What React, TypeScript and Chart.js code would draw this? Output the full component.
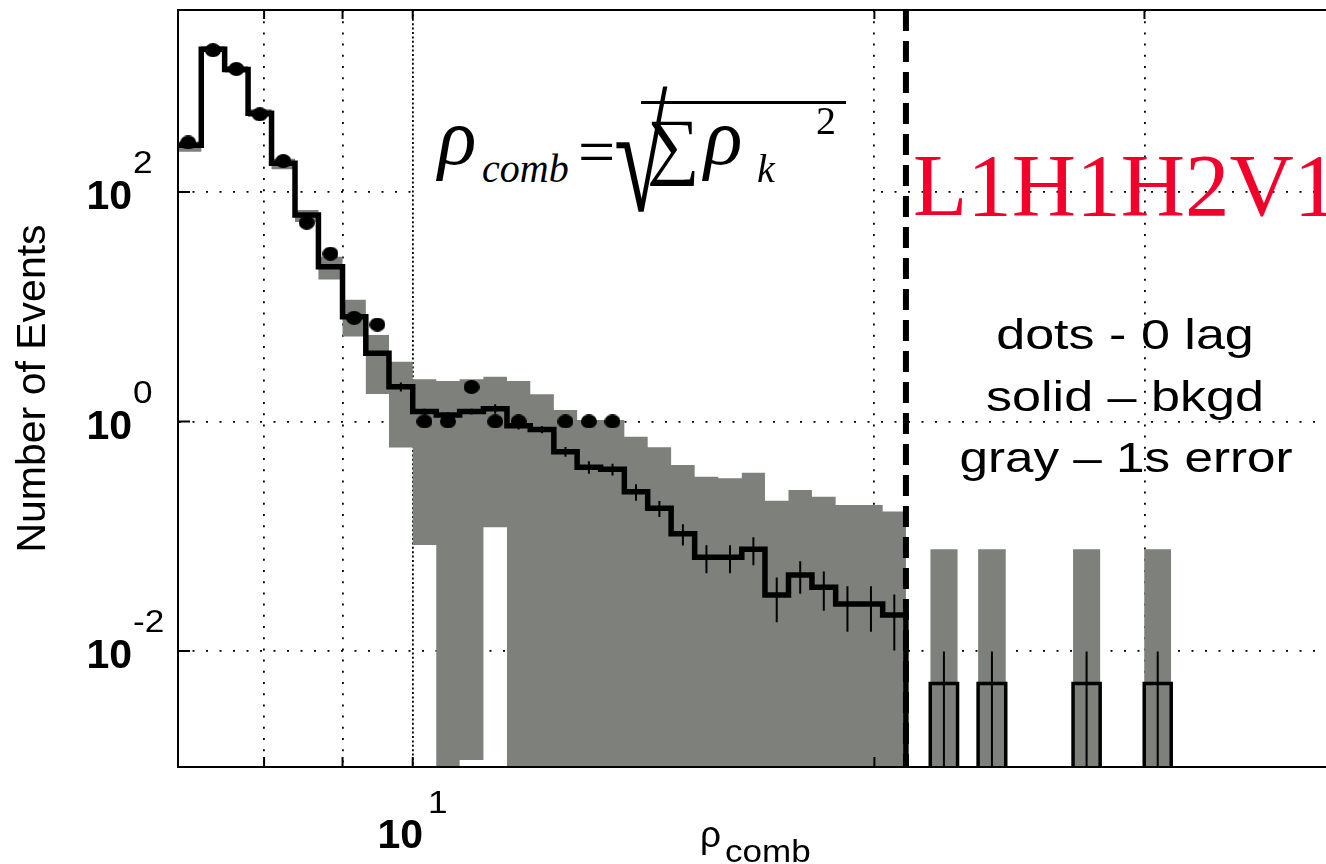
import React, { useEffect, useRef } from 'react';
import { Chart, registerables } from 'chart.js';
Chart.register(...registerables);

// ---------- data ----------
// log-spaced histogram bin edges of rho_comb, below the threshold
const binEdges = [7.00, 7.28, 7.54, 7.81, 8.09, 8.38, 8.68, 9.00, 9.32, 9.65, 10.00, 10.36, 10.73, 11.12, 11.52, 11.93, 12.36, 12.80, 13.26, 13.74, 14.23, 14.74, 15.27, 15.82, 16.39, 16.97, 17.58, 18.21, 18.87, 19.55, 20.25, 20.97];
// background (time-slide) estimate per bin – solid line
const bkgd = [255, 1750, 1170, 485, 178, 63, 22.3, 8.2, 3.93, 2.01, 1.22, 1.14, 1.22, 1.29, 0.92, 0.85, 0.546, 0.40, 0.383, 0.244, 0.175, 0.105, 0.0656, 0.0656, 0.077, 0.0308, 0.046, 0.0359, 0.0257, 0.0257, 0.0206];
// statistical error of the background estimate (error bars)
const bkgdErr = [3, 12, 8, 4, 2, 1, 0.4, 0.2, 0.12, 0.18, 0.07, 0.07, 0.07, 0.12, 0.07, 0.06, 0.053, 0.05, 0.045, 0.04, 0.028, 0.022, 0.018, 0.018, 0.021, 0.013, 0.0145, 0.0135, 0.011, 0.011, 0.0105];
// gray 1-sigma band
const bandHigh = [275, 1860, 1250, 525, 195, 69.7, 27.3, 11.5, 5.68, 3.31, 2.33, 2.25, 2.33, 2.46, 2.25, 1.73, 1.26, 1.03, 1.03, 0.738, 0.596, 0.418, 0.33, 0.32, 0.358, 0.204, 0.253, 0.221, 0.187, 0.187, 0.164];
const bandLow = [224, 1650, 1100, 450, 158, 54.8, 17.3, 5.5, 1.74, 0.594, 0.084, 0, 0.00112, 0.12, 0, 0, 0, 0, 0, 0, 0, 0, 0, 0, 0, 0, 0, 0, 0, 0, 0];
// zero-lag events (dots)
const zeroLag = [270, 1720, 1180, 475, 186, 54, 29, 8, 7, 0, 1, 1, 2, 1, 1, 0, 1, 1, 1, 0, 0, 0, 0, 0, 0, 0, 0, 0, 0, 0, 0];

// isolated background bins above the threshold
const tailLo = [21.75, 23.37, 26.95, 29.99];
const tailHi = [22.66, 24.36, 28.07, 31.23];
const tailBkgd = [0.0052, 0.0052, 0.0052, 0.0052];
const tailErr = [0.0047, 0.0047, 0.0047, 0.0047];
const tailBandHigh = [0.0769, 0.0769, 0.0769, 0.0769];

const threshold = 20.97;

// axes
const xMin = 7.03;
const xMax = 39.4;
const yMin = 0.000975;
const yMax = 3855;
const xGridTicks = [8, 9, 10, 20, 30];
const xLabelledTicks = [10];
const yTicks = [0.01, 1, 100];

// ---------- helpers ----------
const FLOOR = 1e-7; // stand-in for zero on the log axis (below the visible range)
const pos = (v: number) => (v > 0 ? v : FLOOR);
const SANS = '"Liberation Sans", Arial, sans-serif';
const SERIF = '"Liberation Serif", "Times New Roman", serif';
const GRAY = '#7e807c';

function stepPoints(edges: number[], vals: number[], last?: number) {
  const pts: any[] = vals.map((v, i) => ({ x: edges[i], y: pos(v) }));
  pts.push({ x: edges[edges.length - 1], y: last !== undefined ? pos(last) : pos(vals[vals.length - 1]) });
  return pts;
}

function makeDot() {
  const c = document.createElement('canvas');
  c.width = 16;
  c.height = 14;
  const g = c.getContext('2d')!;
  g.fillStyle = '#000';
  g.beginPath();
  g.ellipse(8, 7, 8, 7, 0, 0, Math.PI * 2);
  g.fill();
  return c;
}

const X_LABEL_OFFSET = -12.5;
const X_LABEL_PAD = 45;
const Y_LABEL_PAD = 46;
const TICK_FONT = { family: 'Liberation Sans', size: 41, weight: 'bold' as const };

const framePlugin = {
  id: 'frameAndExponents',
  afterDraw(chart: any) {
    const { ctx, chartArea: a, scales } = chart;
    const xs = scales.x;
    const ys = scales.y;
    ctx.save();
    ctx.strokeStyle = '#000';
    ctx.lineWidth = 2;
    ctx.beginPath();
    ctx.moveTo(a.left, a.top);
    ctx.lineTo(a.right, a.top);
    for (const t of xs.ticks) {
      const px = xs.getPixelForValue(t.value);
      ctx.moveTo(px, a.bottom);
      ctx.lineTo(px, a.bottom - 10);
      ctx.moveTo(px, a.top);
      ctx.lineTo(px, a.top + 9);
    }
    for (const t of ys.ticks) {
      const py = ys.getPixelForValue(t.value);
      ctx.moveTo(a.left, py);
      ctx.lineTo(a.left + 12, py);
    }
    ctx.stroke();

    // exponents of the 10^n tick labels
    ctx.fillStyle = '#000';
    ctx.textAlign = 'left';
    ctx.textBaseline = 'alphabetic';
    const drawExp = (s: string, x: number, y: number) => {
      ctx.save();
      ctx.translate(x, y);
      ctx.scale(1.1, 1);
      ctx.font = '32px "Liberation Sans"';
      ctx.fillText(s, 0, 0);
      ctx.restore();
    };
    for (const t of ys.ticks) {
      const py = ys.getPixelForValue(t.value);
      const e = Math.round(Math.log10(t.value));
      drawExp(String(e), a.left - Y_LABEL_PAD + 1, py - 18.5);
    }
    ctx.font = 'bold 41px "Liberation Sans"';
    const w = ctx.measureText('10').width;
    for (const t of xs.ticks) {
      if (!xLabelledTicks.includes(t.value)) continue;
      const px = xs.getPixelForValue(t.value) + X_LABEL_OFFSET;
      const e = Math.round(Math.log10(t.value));
      drawExp(String(e), px + w / 2 + 5, a.bottom + X_LABEL_PAD + 1);
    }
    ctx.restore();
  },
};

type TxtProps = {
  x: number;
  base: number;
  size: number;
  serif?: boolean;
  italic?: boolean;
  color?: string;
  sx?: number;
  sy?: number;
  center?: boolean;
  weight?: number | string;
  children: React.ReactNode;
};

function Txt({ x, base, size, serif, italic, color = '#000', sx = 1, sy = 1, center, weight, children }: TxtProps) {
  const asc = serif ? 0.891 : 0.905;
  const desc = serif ? 0.216 : 0.212;
  const baseOff = size * ((1 - (asc + desc)) / 2 + asc);
  const style: React.CSSProperties = {
    position: 'absolute',
    left: x,
    top: base - baseOff,
    fontFamily: serif ? SERIF : SANS,
    fontSize: size,
    lineHeight: `${size}px`,
    fontStyle: italic ? 'italic' : 'normal',
    fontWeight: weight as any,
    color,
    whiteSpace: 'nowrap',
    transformOrigin: center ? '50% 50%' : `0 ${baseOff}px`,
    transform: center ? `translateX(-50%) scale(${sx}, ${sy})` : `scale(${sx}, ${sy})`,
  };
  return <div style={style}>{children}</div>;
}

export default function App() {
  const ref = useRef<HTMLCanvasElement>(null);

  useEffect(() => {
    const canvas = ref.current;
    if (!canvas) return;

    const centers = binEdges.slice(0, -1).map((e, i) => Math.sqrt(e * binEdges[i + 1]));
    const tailCenters = tailLo.map((lo, i) => Math.sqrt(lo * tailHi[i]));

    const dots = zeroLag
      .map((v, i) => ({ x: centers[i], y: v }))
      .filter((p) => p.y > 0);

    const errPts: any[] = [];
    bkgd.forEach((v, i) => {
      errPts.push({ x: centers[i], y: pos(v - bkgdErr[i]) }, { x: centers[i], y: v + bkgdErr[i] }, { x: centers[i], y: null });
    });
    tailBkgd.forEach((v, i) => {
      errPts.push({ x: tailCenters[i], y: pos(v - tailErr[i]) }, { x: tailCenters[i], y: v + tailErr[i] }, { x: tailCenters[i], y: null });
    });

    const tailOutline: any[] = [];
    tailBkgd.forEach((v, i) => {
      tailOutline.push(
        { x: tailLo[i], y: FLOOR },
        { x: tailLo[i], y: v },
        { x: tailHi[i], y: v },
        { x: tailHi[i], y: FLOOR },
        { x: tailHi[i], y: null }
      );
    });

    const tailBand: any[] = [];
    tailBandHigh.forEach((v, i) => {
      tailBand.push({ x: tailLo[i], y: v }, { x: tailHi[i], y: FLOOR });
    });

    const base = { pointRadius: 0, pointHoverRadius: 0, spanGaps: false };

    const chart = new Chart(canvas, {
      type: 'line',
      data: {
        datasets: [
          {
            ...base,
            label: 'zero lag',
            data: dots,
            showLine: false,
            pointStyle: makeDot() as any,
            pointRadius: 7,
            order: 0,
          },
          {
            ...base,
            label: 'bkgd error',
            data: errPts,
            borderColor: '#000',
            borderWidth: 2,
            order: 1,
          },
          {
            ...base,
            label: 'threshold',
            data: [
              { x: threshold, y: yMax },
              { x: threshold, y: yMin },
            ],
            borderColor: '#000',
            borderWidth: 6,
            borderDash: [21, 10],
            borderCapStyle: 'butt',
            order: 1,
          },
          {
            ...base,
            label: 'bkgd',
            data: stepPoints(binEdges, bkgd, 0),
            stepped: true,
            borderColor: '#000',
            borderWidth: 5.5,
            borderJoinStyle: 'miter',
            order: 2,
          },
          {
            ...base,
            label: 'bkgd tail',
            data: tailOutline,
            borderColor: '#000',
            borderWidth: 3.5,
            borderJoinStyle: 'miter',
            order: 2,
          },
          {
            ...base,
            label: 'band high',
            data: stepPoints(binEdges, bandHigh),
            stepped: true,
            borderWidth: 0,
            borderColor: 'rgba(0,0,0,0)',
            backgroundColor: GRAY,
            fill: '+1',
            order: 5,
          },
          {
            ...base,
            label: 'band low',
            data: stepPoints(binEdges, bandLow),
            stepped: true,
            borderWidth: 0,
            borderColor: 'rgba(0,0,0,0)',
            fill: false,
            order: 6,
          },
          {
            ...base,
            label: 'band tail',
            data: tailBand,
            stepped: true,
            borderWidth: 0,
            borderColor: 'rgba(0,0,0,0)',
            backgroundColor: GRAY,
            fill: 'start',
            order: 5,
          },
        ] as any,
      },
      options: {
        animation: false,
        responsive: true,
        maintainAspectRatio: false,
        events: [],
        layout: { autoPadding: false, padding: { top: 10, left: 0, right: 0, bottom: 0 } },
        plugins: { legend: { display: false }, tooltip: { enabled: false } },
        scales: {
          x: {
            type: 'logarithmic',
            min: xMin,
            max: xMax,
            afterBuildTicks: (s: any) => {
              s.ticks = xGridTicks.map((v) => ({ value: v }));
            },
            afterFit: (s: any) => {
              s.height = 97;
              s.paddingLeft = 0;
              s.paddingRight = 0;
              s.paddingTop = 0;
              s.paddingBottom = 0;
            },
            ticks: {
              autoSkip: false,
              maxRotation: 0,
              minRotation: 0,
              padding: X_LABEL_PAD,
              labelOffset: X_LABEL_OFFSET,
              color: '#000',
              font: TICK_FONT,
              callback: (v: any) => (xLabelledTicks.includes(Number(v)) ? '10' : ''),
            },
            grid: { color: '#000', lineWidth: 1.8, drawTicks: false },
            border: {
              display: true,
              color: '#000',
              width: 2,
              z: 1,
              dash: (c: any) => (c.type === 'tick' ? (c.tick && c.tick.value === 10 ? [2, 2.4] : [2, 9.2]) : []),
            },
          } as any,
          y: {
            type: 'logarithmic',
            min: yMin,
            max: yMax,
            afterBuildTicks: (s: any) => {
              s.ticks = yTicks.map((v) => ({ value: v }));
            },
            afterFit: (s: any) => {
              s.width = 178;
              s.paddingLeft = 0;
              s.paddingRight = 0;
              s.paddingTop = 0;
              s.paddingBottom = 0;
            },
            ticks: {
              autoSkip: false,
              padding: Y_LABEL_PAD,
              labelOffset: 6,
              color: '#000',
              font: TICK_FONT,
              callback: () => '10',
            },
            grid: { color: '#000', lineWidth: 1.8, drawTicks: false },
            border: {
              display: true,
              color: '#000',
              width: 2,
              z: 1,
              dash: (c: any) => (c.type === 'tick' ? [2, 11.5] : []),
            },
            title: {
              display: true,
              text: 'Number of Events',
              color: '#000',
              font: { family: 'Liberation Sans', size: 41 },
              padding: { top: 9, bottom: 0 },
            },
          } as any,
        },
      },
      plugins: [framePlugin],
    });
    return () => chart.destroy();
  }, []);

  return (
    <div style={{ position: 'fixed', left: 0, top: 0, width: 1326, height: 864, overflow: 'hidden', background: '#fff' }}>
      <div style={{ position: 'absolute', left: 0, top: 0, width: 1326, height: 864 }}>
        <canvas ref={ref} />
      </div>

      {/* formula box */}
      <div style={{ position: 'absolute', left: 420, top: 90, width: 450, height: 130, background: '#fff' }} />
      <Txt x={438} base={164} size={80} serif italic>ρ</Txt>
      <Txt x={482} base={182} size={40} serif italic>comb</Txt>
      <Txt x={578} base={174} size={66} serif>=</Txt>
      <Txt x={614} base={211} size={157} sx={0.62} serif>√</Txt>
      <div style={{ position: 'absolute', left: 641, top: 101, width: 205, height: 3, background: '#000' }} />
      <Txt x={647} base={170} size={74} serif>∑</Txt>
      <Txt x={704} base={164} size={80} serif italic>ρ</Txt>
      <Txt x={757} base={182} size={40} serif italic>k</Txt>
      <Txt x={816} base={134} size={40} serif>2</Txt>

      {/* detector network */}
      <Txt x={913} base={216} size={89} serif color="#f2002b">L1H1H2V1</Txt>

      {/* legend text */}
      <Txt x={1125} base={350} size={42} sx={1.24} center>dots - 0 lag</Txt>
      <Txt x={1125} base={412} size={42} sx={1.24} center>solid – bkgd</Txt>
      <Txt x={1126} base={473} size={42} sx={1.22} center>gray – 1s error</Txt>

      {/* x axis title */}
      <Txt x={700} base={847} size={37}>ρ</Txt>
      <Txt x={725} base={862} size={31} sx={1.13}>comb</Txt>
    </div>
  );
}
